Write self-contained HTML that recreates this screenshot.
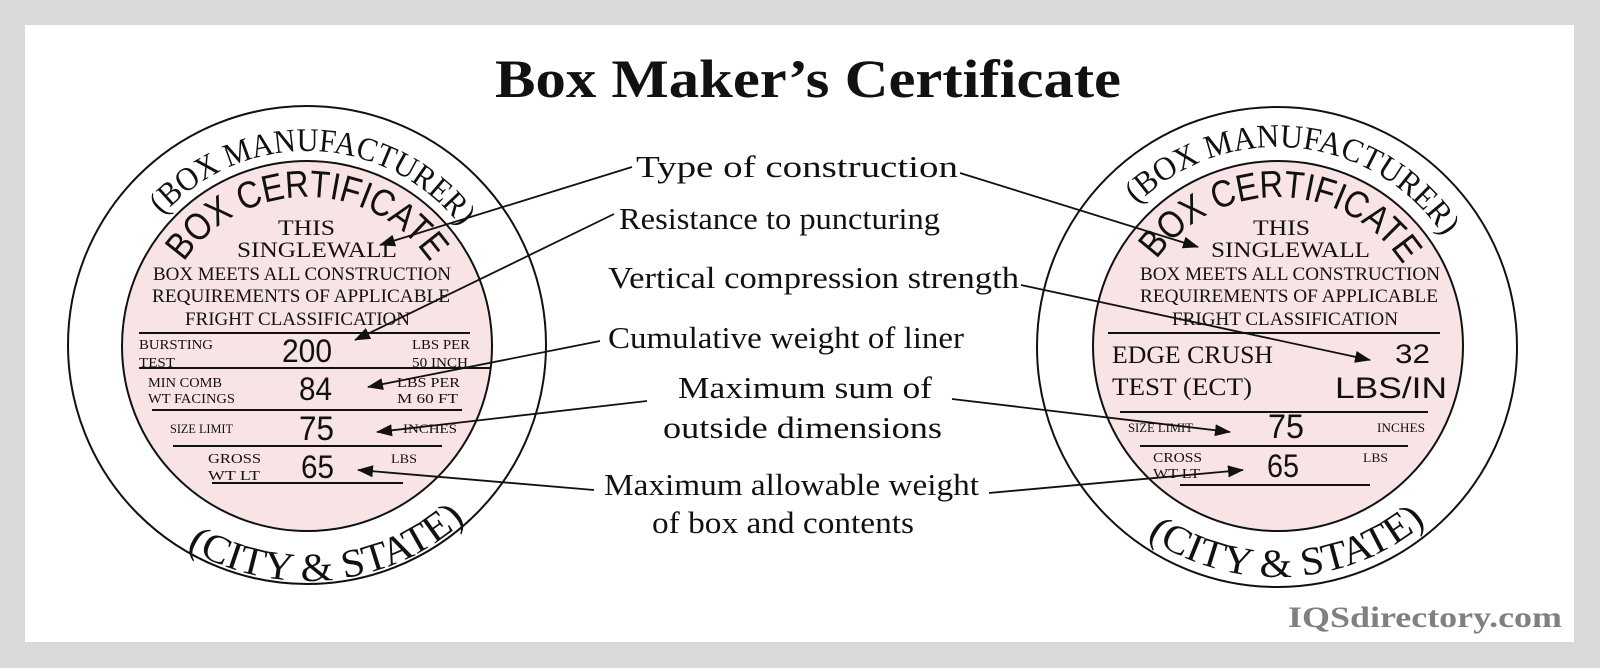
<!DOCTYPE html>
<html><head><meta charset="utf-8"><style>
html,body{margin:0;padding:0;background:#d9d9d9;}
svg{display:block;}
</style></head><body>
<svg width="1600" height="668" viewBox="0 0 1600 668" xmlns="http://www.w3.org/2000/svg">
<defs>
<marker id="ah" markerUnits="userSpaceOnUse" markerWidth="16" markerHeight="12" refX="15" refY="6" orient="auto">
<path d="M0,0 L16,6 L0,12 z" fill="#111"/>
</marker>
<path id="lm" d="M113,345 A194,194 0 0 1 501,345"/>
<path id="lc" d="M158,346 A149,149 0 0 1 456,346"/>
<path id="lb" d="M71,345 A236,236 0 0 0 543,345"/>
<path id="rm" d="M1077,347 A200,200 0 0 1 1477,347"/>
<path id="rc" d="M1129,346 A149,149 0 0 1 1427,346"/>
<path id="rb" d="M1047,347 A230,230 0 0 0 1507,347"/>
</defs>
<rect x="0" y="0" width="1600" height="668" fill="#d9d9d9"/>
<rect x="25" y="25" width="1549" height="617" fill="#fff"/>

<text x="495" y="97" font-family="Liberation Serif, serif" font-weight="bold" font-size="54" textLength="626" lengthAdjust="spacingAndGlyphs" fill="#111">Box Maker’s Certificate</text>

<!-- LEFT CIRCLE -->
<circle cx="307" cy="345" r="239" fill="none" stroke="#111" stroke-width="2"/>
<circle cx="307" cy="346" r="185" fill="#f8e3e5" stroke="#111" stroke-width="2"/>
<g font-family="Liberation Serif, serif" fill="#111">
<text font-size="33"><textPath href="#lm" startOffset="312" text-anchor="middle" textLength="340" lengthAdjust="spacingAndGlyphs">(BOX MANUFACTURER)</textPath></text>
<text font-size="40"><textPath href="#lb" startOffset="394" text-anchor="middle" textLength="300" lengthAdjust="spacingAndGlyphs">(CITY &amp; STATE)</textPath></text>
</g>
<text font-family="Liberation Sans, sans-serif" font-size="38" fill="#111"><textPath href="#lc" startOffset="234" text-anchor="middle" textLength="290" lengthAdjust="spacingAndGlyphs">BOX CERTIFICATE</textPath></text>
<g font-family="Liberation Serif, serif" fill="#111">
<text x="278" y="235" font-size="22" textLength="57" lengthAdjust="spacingAndGlyphs">THIS</text>
<text x="237" y="257" font-size="22" textLength="160" lengthAdjust="spacingAndGlyphs">SINGLEWALL</text>
<text x="153" y="280" font-size="19" textLength="298" lengthAdjust="spacingAndGlyphs">BOX MEETS ALL CONSTRUCTION</text>
<text x="152" y="302" font-size="19" textLength="298" lengthAdjust="spacingAndGlyphs">REQUIREMENTS OF APPLICABLE</text>
<text x="185" y="325" font-size="19" textLength="225" lengthAdjust="spacingAndGlyphs">FRIGHT CLASSIFICATION</text>
<text x="139" y="349" font-size="14" textLength="74" lengthAdjust="spacingAndGlyphs">BURSTING</text>
<text x="139" y="367" font-size="14" textLength="36" lengthAdjust="spacingAndGlyphs">TEST</text>
<text x="412" y="349" font-size="14" textLength="58" lengthAdjust="spacingAndGlyphs">LBS PER</text>
<text x="412" y="367" font-size="14" textLength="56" lengthAdjust="spacingAndGlyphs">50 INCH</text>
<text x="148" y="387" font-size="14" textLength="74" lengthAdjust="spacingAndGlyphs">MIN COMB</text>
<text x="148" y="403" font-size="14" textLength="87" lengthAdjust="spacingAndGlyphs">WT FACINGS</text>
<text x="397" y="387" font-size="14" textLength="63" lengthAdjust="spacingAndGlyphs">LBS PER</text>
<text x="397" y="403" font-size="14" textLength="61" lengthAdjust="spacingAndGlyphs">M 60 FT</text>
<text x="170" y="433" font-size="13" textLength="63" lengthAdjust="spacingAndGlyphs">SIZE LIMIT</text>
<text x="403" y="433" font-size="13" textLength="54" lengthAdjust="spacingAndGlyphs">INCHES</text>
<text x="208" y="463" font-size="14" textLength="53" lengthAdjust="spacingAndGlyphs">GROSS</text>
<text x="208" y="480" font-size="14" textLength="52" lengthAdjust="spacingAndGlyphs">WT LT</text>
<text x="391" y="463" font-size="13" textLength="26" lengthAdjust="spacingAndGlyphs">LBS</text>
</g>
<g font-family="Liberation Sans, sans-serif" fill="#111">
<text x="282" y="362" font-size="32" textLength="50" lengthAdjust="spacingAndGlyphs">200</text>
<text x="299" y="400" font-size="32" textLength="33" lengthAdjust="spacingAndGlyphs">84</text>
<text x="299" y="440" font-size="34" textLength="35" lengthAdjust="spacingAndGlyphs">75</text>
<text x="301" y="478" font-size="32" textLength="33" lengthAdjust="spacingAndGlyphs">65</text>
</g>
<g stroke="#111" stroke-width="2">
<line x1="139" y1="333" x2="470" y2="333"/>
<line x1="139" y1="368" x2="490" y2="368"/>
<line x1="152" y1="410" x2="462" y2="410"/>
<line x1="173" y1="446" x2="442" y2="446"/>
<line x1="212" y1="483" x2="403" y2="483"/>
</g>

<!-- RIGHT CIRCLE -->
<circle cx="1277" cy="347" r="240" fill="none" stroke="#111" stroke-width="2"/>
<circle cx="1278" cy="346" r="185" fill="#f8e3e5" stroke="#111" stroke-width="2"/>
<g font-family="Liberation Serif, serif" fill="#111">
<text font-size="33"><textPath href="#rm" startOffset="335" text-anchor="middle" textLength="352" lengthAdjust="spacingAndGlyphs">(BOX MANUFACTURER)</textPath></text>
<text font-size="40"><textPath href="#rb" startOffset="373" text-anchor="middle" textLength="300" lengthAdjust="spacingAndGlyphs">(CITY &amp; STATE)</textPath></text>
</g>
<text font-family="Liberation Sans, sans-serif" font-size="38" fill="#111"><textPath href="#rc" startOffset="237" text-anchor="middle" textLength="290" lengthAdjust="spacingAndGlyphs">BOX CERTIFICATE</textPath></text>
<g font-family="Liberation Serif, serif" fill="#111">
<text x="1253" y="235" font-size="22" textLength="57" lengthAdjust="spacingAndGlyphs">THIS</text>
<text x="1211" y="257" font-size="22" textLength="159" lengthAdjust="spacingAndGlyphs">SINGLEWALL</text>
<text x="1140" y="280" font-size="19" textLength="300" lengthAdjust="spacingAndGlyphs">BOX MEETS ALL CONSTRUCTION</text>
<text x="1140" y="302" font-size="19" textLength="298" lengthAdjust="spacingAndGlyphs">REQUIREMENTS OF APPLICABLE</text>
<text x="1172" y="325" font-size="19" textLength="226" lengthAdjust="spacingAndGlyphs">FRIGHT CLASSIFICATION</text>
<text x="1112" y="363" font-size="25" textLength="161" lengthAdjust="spacingAndGlyphs">EDGE CRUSH</text>
<text x="1112" y="395" font-size="25" textLength="140" lengthAdjust="spacingAndGlyphs">TEST (ECT)</text>
<text x="1128" y="432" font-size="13" textLength="65" lengthAdjust="spacingAndGlyphs">SIZE LIMIT</text>
<text x="1377" y="432" font-size="13" textLength="48" lengthAdjust="spacingAndGlyphs">INCHES</text>
<text x="1153" y="462" font-size="14" textLength="49" lengthAdjust="spacingAndGlyphs">CROSS</text>
<text x="1153" y="478" font-size="14" textLength="47" lengthAdjust="spacingAndGlyphs">WT LT</text>
<text x="1363" y="462" font-size="13" textLength="25" lengthAdjust="spacingAndGlyphs">LBS</text>
</g>
<g font-family="Liberation Sans, sans-serif" fill="#111">
<text x="1395" y="363" font-size="27" textLength="35" lengthAdjust="spacingAndGlyphs">32</text>
<text x="1335" y="398" font-size="30" textLength="112" lengthAdjust="spacingAndGlyphs">LBS/IN</text>
<text x="1268" y="438" font-size="34" textLength="36" lengthAdjust="spacingAndGlyphs">75</text>
<text x="1267" y="477" font-size="32" textLength="32" lengthAdjust="spacingAndGlyphs">65</text>
</g>
<g stroke="#111" stroke-width="2">
<line x1="1108" y1="333" x2="1440" y2="333"/>
<line x1="1120" y1="412" x2="1428" y2="412"/>
<line x1="1140" y1="446" x2="1408" y2="446"/>
<line x1="1180" y1="485" x2="1370" y2="485"/>
</g>

<!-- LABELS -->
<g font-family="Liberation Serif, serif" fill="#111" font-size="31">
<text x="636" y="177" textLength="322" lengthAdjust="spacingAndGlyphs">Type of construction</text>
<text x="619" y="229" textLength="321" lengthAdjust="spacingAndGlyphs">Resistance to puncturing</text>
<text x="608" y="288" textLength="411" lengthAdjust="spacingAndGlyphs">Vertical compression strength</text>
<text x="608" y="348" textLength="356" lengthAdjust="spacingAndGlyphs">Cumulative weight of liner</text>
<text x="678" y="398" textLength="254" lengthAdjust="spacingAndGlyphs">Maximum sum of</text>
<text x="663" y="438" textLength="279" lengthAdjust="spacingAndGlyphs">outside dimensions</text>
<text x="604" y="495" textLength="375" lengthAdjust="spacingAndGlyphs">Maximum allowable weight</text>
<text x="652" y="533" textLength="262" lengthAdjust="spacingAndGlyphs">of box and contents</text>
</g>

<!-- ARROWS -->
<g stroke="#111" stroke-width="1.8" fill="none" marker-end="url(#ah)">
<line x1="632" y1="167" x2="380" y2="245"/>
<line x1="960" y1="173" x2="1198" y2="247"/>
<line x1="614" y1="214" x2="355" y2="340"/>
<line x1="1021" y1="285" x2="1370" y2="360"/>
<line x1="600" y1="341" x2="368" y2="387"/>
<line x1="647" y1="401" x2="377" y2="432"/>
<line x1="952" y1="399" x2="1230" y2="432"/>
<line x1="594" y1="490" x2="358" y2="470"/>
<line x1="989" y1="493" x2="1243" y2="470"/>
</g>

<text x="1288" y="627" font-family="Liberation Serif, serif" font-weight="bold" font-size="30" fill="#808080" textLength="274" lengthAdjust="spacingAndGlyphs">IQSdirectory.com</text>
</svg>
</body></html>
